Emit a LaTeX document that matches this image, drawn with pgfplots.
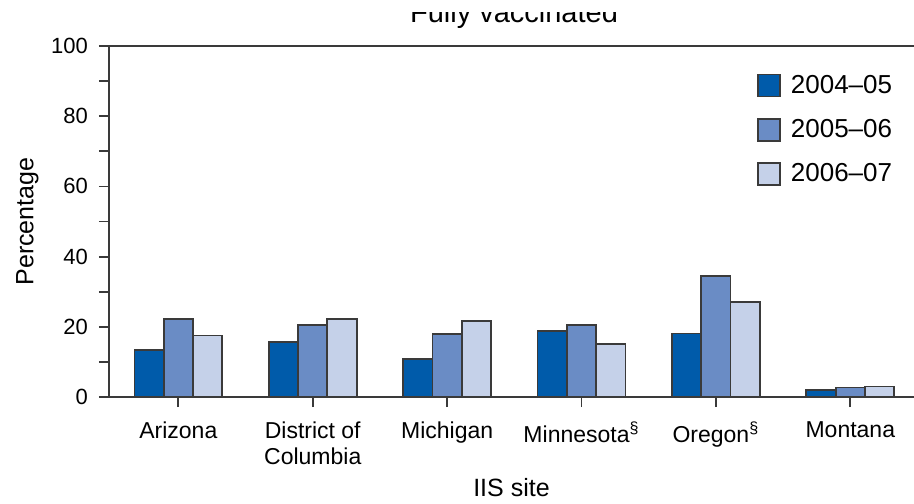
\documentclass[border=0pt]{standalone}
\usepackage{pgfplots}
\pgfplotsset{compat=1.18}
\usepackage{fontspec}
\setmainfont{Liberation Sans}
\definecolor{cdark}{HTML}{005BAA}
\definecolor{cmid}{HTML}{6A8CC5}
\definecolor{clight}{HTML}{C5D1E9}
\definecolor{cline}{HTML}{3A3A3A}
\begin{document}
\begin{tikzpicture}
\begin{axis}[
  at={(0,0)}, anchor=south west,
  scale only axis, width=402.5pt, height=175.5pt,
  xmin=-0.516, xmax=5.474, ymin=0, ymax=100,
  axis lines=left,
  axis line style={-, cline, line width=1pt},
  ybar=0pt, bar width=0.218,
  xtick={0,1,2,3,4,5},
  xticklabels={Arizona, District of\\Columbia, Michigan, Minnesota\textsuperscript{\S}, Oregon\textsuperscript{\S}, Montana},
  x tick label style={align=center, font=\fontsize{11.5}{13}\selectfont, yshift=-4pt},
  ytick={0,20,40,60,80,100},
  minor ytick={10,30,50,70,90},
  y tick label style={font=\fontsize{11}{13}\selectfont, xshift=-2pt},
  /pgf/number format/assume math mode=true,
  tick align=outside,
  major tick length=5pt, minor tick length=5pt,
  tick style={cline, line width=0.9pt},
  ylabel={Percentage},
  xlabel={IIS site},
  label style={font=\fontsize{12.5}{14}\selectfont},
  ylabel style={yshift=-0.5pt},
  xlabel style={yshift=0pt},
  legend style={draw=none, fill=none, at={(rel axis cs:0.8046,0.93)}, anchor=north west,
    inner sep=0pt, row sep=7.5pt, font=\fontsize{13}{15}\selectfont},
  legend cell align=left,
  legend image code/.code={\draw[#1] (0pt,-5.5pt) rectangle (11pt,5.5pt); \path (14pt,0pt);},
  clip=false,
]
\addplot[fill=cdark, draw=cline, line width=0.9pt] coordinates {(0,13.4) (1,15.7) (2,10.9) (3,18.8) (4,18.1) (5,2.0)};
\addplot[fill=cmid, draw=cline, line width=0.9pt] coordinates {(0,22.2) (1,20.4) (2,18.0) (3,20.4) (4,34.4) (5,2.7)};
\addplot[fill=clight, draw=cline, line width=0.9pt] coordinates {(0,17.5) (1,22.2) (2,21.6) (3,15.0) (4,27.1) (5,3.0)};
\legend{2004--05, 2005--06, 2006--07}
\draw[cline, line width=1pt] (rel axis cs:0,1) -- (rel axis cs:1,1);
\end{axis}
\begin{scope}
\clip (-54.5pt,150pt) rectangle (402.5pt,192pt);
\node[anchor=base, font=\fontsize{14.5}{16}\selectfont] at (202.5pt,187pt) {Fully vaccinated};
\end{scope}
\pgfresetboundingbox
\path[use as bounding box] (-54.5pt,-53pt) rectangle (402.5pt,198.5pt);
\end{tikzpicture}
\end{document}
